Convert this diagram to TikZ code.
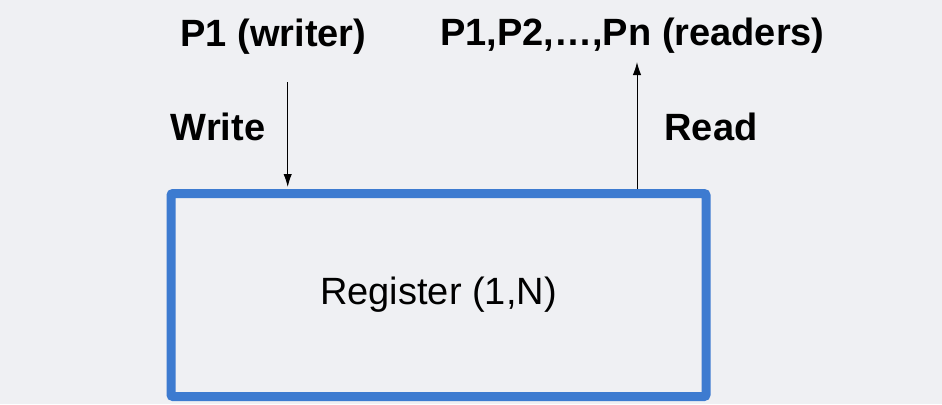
\documentclass[tikz,border=0pt]{standalone}
\usepackage{fontspec}
\setmainfont{Liberation Sans}
\usepackage{tikz}
\usetikzlibrary{arrows.meta}
\definecolor{bggrey}{HTML}{EFF0F3}
\definecolor{regblue}{HTML}{3D7BD0}

\begin{document}
\begin{tikzpicture}[x=0.5pt,y=0.5pt,
  lbl/.style={anchor=base,font=\fontsize{19}{23}\selectfont\bfseries},
  regbox/.style={draw=regblue,line width=4.5pt,rounded corners=1pt,inner sep=0pt,
    minimum width=267.5pt,minimum height=101.5pt,font=\fontsize{19}{23}\selectfont},
  rw/.style={-{Latex[length=6.5pt,width=4.2pt]},line width=0.5pt}]
% background
\fill[bggrey] (0,0) rectangle (942,404);
\useasboundingbox (0,0) rectangle (942,404);

% draw register
\node[regbox] (reg) at (438.5,109) {Register (1,N)};

% draw labels
\node[lbl] (writer) at (273.5,358) {P1 (writer)};
\node[lbl] (readers) at (632.5,359) {P1,P2,…,Pn (readers)};
\node[lbl] (write) at (218,264) {Write};
\node[lbl] (read) at (711,264) {Read};

% draw write and read arrows
\coordinate (wtail) at (287.7,322);
\coordinate (rtip) at (637,342);
\draw[rw,shorten >=1pt] (wtail) -- (wtail |- reg.north);
\draw[rw] (rtip |- reg.north) -- (rtip);
\end{tikzpicture}
\end{document}
